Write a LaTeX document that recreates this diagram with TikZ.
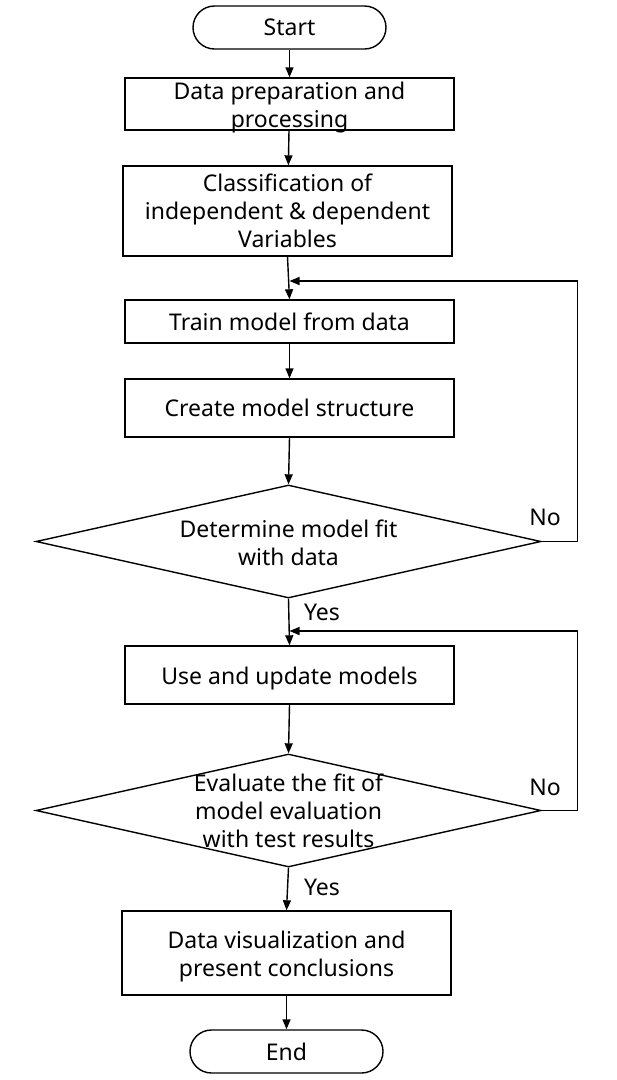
\documentclass[tikz,border=0pt]{standalone}
\usepackage{fontspec}
\setmainfont{Noto Sans}
\usetikzlibrary{shapes.geometric,arrows.meta,calc}
\begin{document}
\begin{tikzpicture}[x=1pt,y=-1pt,
  font=\fontsize{23}{28}\selectfont,
  every node/.style={line width=1.4pt},
  box/.style={draw, minimum width=329pt, align=center, inner sep=0pt},
  low/.style={text height=25pt},
  lowtwo/.style={text height=53pt, inner ysep=-6pt},
  term/.style={draw, rounded corners=21.5pt, minimum width=193pt, minimum height=43pt, inner sep=0pt},
  dia/.style={draw, diamond, minimum width=505pt, minimum height=113pt, inner sep=0pt},
  arr/.style={line width=1.4pt, -{Triangle[length=10pt,width=8pt]}},
  lbl/.style={inner sep=0pt}]
\useasboundingbox (0,0) rectangle (617,1080);
\node[term] (start) at (289.5,27.5) {Start};
\node[box, lowtwo, minimum height=52pt] (b1) at (289.5,104) {Data preparation and\\processing};
\node[box, minimum height=90pt] (b2) at (287.5,211) {Classification of\\independent \& dependent\\Variables};
\node[box, minimum height=43pt] (b3) at (289.5,321.5) {Train model from data};
\node[box, minimum height=58pt] (b4) at (289.5,408) {Create model structure};
\node[dia] (d1) at (288.5,541.5) {};
\node[lbl, align=center] (t1) at (288.5,543) {Determine model fit\\with data};
\node[box, low, minimum height=58pt] (b5) at (289.5,675) {Use and update models};
\node[dia] (d2) at (288.5,810.5) {};
\node[lbl, align=center] (t2) at (288.5,811) {Evaluate the fit of\\model evaluation\\with test results};
\node[box, lowtwo, minimum height=84pt] (b6) at (286.5,953) {Data visualization and\\present conclusions};
\node[term] (end) at (286.5,1051.5) {End};
\coordinate (j1) at (289.5,281);
\coordinate (j2) at (289.5,631);
\draw[arr] (start) -- (b1);
\draw[arr] (b1) -- (b2);
\draw[arr] (b2.south) -- (b3.north);
\draw[arr] (b3) -- (b4);
\draw[arr] (b4.south) -- (d1.north);
\draw[arr] (d1.south) -- (b5.north);
\draw[arr] (b5.south) -- (d2.north);
\draw[arr] (d2.south) -- (b6.north);
\draw[arr] (b6) -- (end);
\draw[arr] (d1.east) -- ++(36,0) |- (j1);
\draw[arr] (d2.east) -- ++(36,0) |- (j2);
\node[lbl] (no1) at (545,517) {No};
\node[lbl] (no2) at (545,787) {No};
\node[lbl] (yes1) at (322,612) {Yes};
\node[lbl] (yes2) at (322,887) {Yes};
\end{tikzpicture}
\end{document}
